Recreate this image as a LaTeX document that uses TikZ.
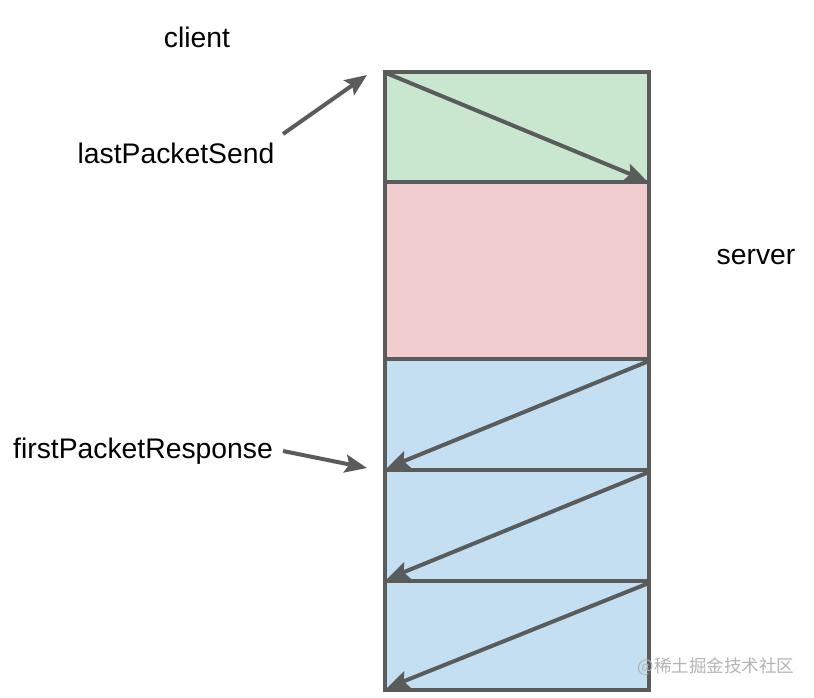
\documentclass[tikz,border=0pt]{standalone}
\usepackage{fontspec}
\setmainfont{Liberation Sans}
\newfontfamily\cjk{Noto Sans CJK SC}
\usetikzlibrary{arrows.meta}
\definecolor{strokec}{HTML}{5A5C5B}
\definecolor{greenc}{HTML}{C9E6CF}
\definecolor{pinkc}{HTML}{F2CDD0}
\definecolor{bluec}{HTML}{C4DFF2}
\definecolor{wmc}{HTML}{B4B4B4}
\tikzset{
  seg/.style={draw=strokec, line width=4pt, rectangle, inner sep=0pt, outer sep=0pt, minimum width=264pt},
  lbl/.style={font=\fontsize{28.3}{33}\selectfont, text=black, inner sep=0pt},
  arr/.style={draw=strokec, line width=4pt, -{Stealth[length=22pt,width=18pt,inset=4pt]}},
}
\begin{document}
\begin{tikzpicture}[x=1pt,y=-1pt]
\useasboundingbox[fill=white] (0,0) rectangle (814,698);
% segments
\node[seg, fill=greenc, minimum height=110pt] (g) at (517,127) {};
\node[seg, fill=pinkc, minimum height=177pt] (p) at (517,270.5) {};
\node[seg, fill=bluec, minimum height=111pt] (b1) at (517,414.5) {};
\node[seg, fill=bluec, minimum height=111pt] (b2) at (517,525.5) {};
\node[seg, fill=bluec, minimum height=109pt] (b3) at (517,635.5) {};
% labels
\node[lbl] (client) at (197,37) {client};
\node[lbl] (lps) at (176,153) {lastPacketSend};
\node[lbl] (server) at (756,257) {server};
\node[lbl] (fpr) at (143,451) {firstPacketResponse};
\node[font=\cjk\fontsize{17.5}{20}\selectfont, text=wmc, inner sep=0pt] (wm) at (716,667) {@稀土掘金技术社区};
% pointer coordinates
\coordinate (lpsS) at (283,134);
\coordinate (lpsT) at (367,75);
\coordinate (fprS) at (283,451);
\coordinate (fprT) at (367,468);
% arrows
\draw[arr] (lpsS) -- (lpsT);
\draw[arr] (fprS) -- (fprT);
\draw[arr] ([xshift=1pt,yshift=-1pt]g.north west) -- ([xshift=-2pt,yshift=1pt]g.south east);
\draw[arr] ([yshift=-2pt]b1.north east) -- ([xshift=2pt,yshift=2pt]b1.south west);
\draw[arr] ([yshift=-2pt]b2.north east) -- ([xshift=2pt,yshift=2pt]b2.south west);
\draw[arr] ([yshift=-2pt]b3.north east) -- ([xshift=2pt,yshift=2pt]b3.south west);
\end{tikzpicture}
\end{document}
